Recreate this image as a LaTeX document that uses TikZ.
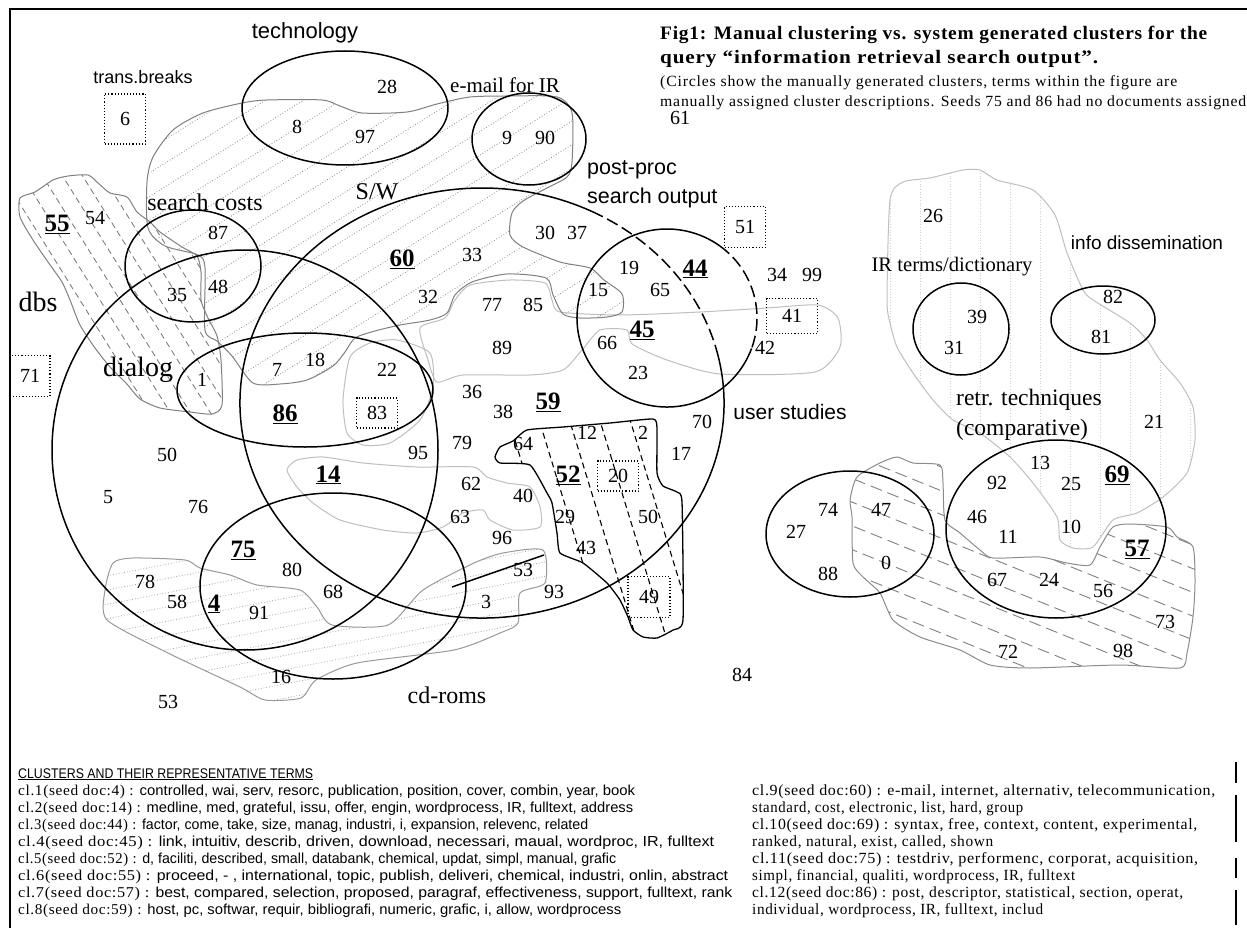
\documentclass[tikz,border=0pt]{standalone}
\usepackage{fontspec}
\usepackage{graphicx}
\setmainfont{Liberation Serif}
\newfontfamily\sansf{Liberation Sans}
\newfontfamily\titlef[LetterSpace=4]{Liberation Serif}
\newfontfamily\subf[LetterSpace=5]{Liberation Serif}
\newfontfamily\lsf[LetterSpace=4]{Liberation Serif}
\newcommand{\fitto}[2]{\resizebox{#1}{\height}{#2}}
\newcommand{\lline}[2]{{\lsf\fontsize{15}{17}\selectfont #1 : }{\sansf\fontsize{14.5}{17}\selectfont #2}}
\newcommand{\myhatch}[6]{%
  \begin{scope}
    \clip #1;
    \begin{scope}[shift={(#3,#4)},rotate=#5]
      \foreach \k in {-32,...,32} {\draw[#2] (-620,\k*#6) -- (620,\k*#6);}
    \end{scope}
  \end{scope}}
\tikzset{
  num/.style={font=\fontsize{20}{22}\selectfont, inner sep=0pt},
  bnum/.style={font=\fontsize{25}{27}\selectfont\bfseries, inner sep=0pt},
  slab/.style={font=\fontsize{#1}{#1}\selectfont, inner sep=0pt},
  sslab/.style={font=\fontsize{#1}{#1}\selectfont\sansf, inner sep=0pt},
  ring/.style={draw=black, line width=1.5pt},
  ringdash/.style={draw=black, line width=1.5pt, dash pattern=on 12pt off 5pt},
  blobdark/.style={draw=black!50, line width=1pt},
  bloblight/.style={draw=black!25, line width=1pt},
  blobblack/.style={draw=black, line width=1.3pt},
  dotbox/.style={draw=black, dotted, line width=1.1pt, inner sep=0pt, font=\fontsize{20}{22}\selectfont},
  hdot/.style={draw=black!45, dotted, line width=0.8pt},
  hdotl/.style={draw=black!35, dotted, line width=0.8pt},
  hdash/.style={draw=black!55, dash pattern=on 6pt off 4pt, line width=0.8pt},
  hdashk/.style={draw=black, dash pattern=on 6pt off 4pt, line width=1.1pt},
  hdashl/.style={draw=black!50, dash pattern=on 12pt off 6pt, line width=0.9pt},
  hvert/.style={draw=black!18, dotted, line width=0.7pt},
  frameline/.style={draw=black, line width=1.6pt},
  bline/.style={inner sep=0pt, anchor=base west},
  rline/.style={font=\lsf\fontsize{15.5}{17}\selectfont, inner sep=0pt, anchor=base west},
}
\def\blobA{plot[smooth cycle,tension=0.45] coordinates {(253,383) (280,384) (307,380) (333,366) (345,352) (355,338) (375,331) (400,325) (430,320) (447,313) (455,295) (472,282) (507,274) (546,278) (553,295) (563,314) (580,318) (607,317) (622,312) (622,294) (604,280) (590,268) (560,262) (523,247) (510,235) (512,213) (523,201) (547,188) (567,177) (572,162) (572,113) (557,97) (510,96) (470,97) (437,104) (407,112) (362,113) (340,106) (322,100) (267,100) (242,103) (203,113) (173,130) (153,157) (147,182) (148,228) (165,246) (198,255) (205,268) (205,330) (217,341) (232,356)}}
\def\blobB{plot[smooth cycle,tension=0.4] coordinates {(20,198) (35,192) (53,180) (68,176) (88,175) (98,183) (110,193) (127,197) (137,212) (150,222) (160,232) (182,247) (197,256) (201,272) (201,300) (208,318) (217,336) (221,360) (222,405) (212,414) (190,412) (160,408) (140,399) (126,383) (110,367) (95,348) (80,325) (70,300) (62,282) (48,262) (33,240) (20,217)}}
\def\blobC{plot[smooth cycle,tension=0.3] coordinates {(495,457) (500,447) (513,441) (527,430) (563,427) (610,423) (653,419) (657,428) (657,473) (663,486) (677,492) (682,502) (683,620) (673,630) (657,638) (643,637) (633,630) (628,617) (620,600) (607,583) (583,563) (560,553) (557,533) (552,503) (547,493) (530,465) (500,463)}}
\def\blobD{plot[smooth cycle,tension=0.4] coordinates {(850,500) (857,477) (880,463) (897,457) (913,463) (940,465) (943,483) (945,520) (960,533) (980,550) (993,558) (1040,557) (1067,563) (1090,565) (1100,547) (1113,527) (1130,524) (1167,527) (1177,537) (1193,547) (1195,583) (1193,617) (1187,653) (1180,668) (1120,665) (1030,668) (990,665) (960,650) (920,637) (893,620) (880,593) (863,577) (853,563) (852,517)}}
\def\blobE{plot[smooth cycle,tension=0.4] coordinates {(113,563) (133,558) (185,560) (200,568) (230,575) (257,585) (300,590) (317,607) (332,625) (388,625) (423,590) (474,563) (503,553) (543,550) (545,583) (520,593) (518,623) (500,633) (454,650) (357,663) (316,680) (301,698) (265,700) (240,687) (168,653) (107,620) (105,590)}}
\def\blobF{plot[smooth cycle,tension=0.4] coordinates {(287,470) (297,460) (323,457) (363,463) (417,467) (473,467) (487,477) (507,483) (530,487) (540,507) (540,527) (513,530) (490,520) (483,510) (463,513) (443,527) (417,533) (383,530) (340,520) (313,503) (297,487)}}
\def\blobG{plot[smooth cycle,tension=0.4] coordinates {(350,357) (370,343) (397,340) (430,353) (433,387) (420,420) (390,443) (363,445) (347,433) (343,400)}}
\def\blobP{plot[smooth cycle,tension=0.4] coordinates {(420,328) (445,318) (455,300) (470,285) (510,280) (545,283) (552,300) (560,312) (620,315) (700,312) (767,308) (818,305) (838,318) (840,347) (815,372) (720,374) (667,360) (632,344) (627,330) (600,330) (582,350) (563,370) (530,375) (463,375) (437,382) (428,360)}}
\def\blobI{plot[smooth cycle,tension=0.4] coordinates {(887,300) (890,200) (903,182) (930,178) (963,170) (980,170) (997,180) (1033,190) (1055,215) (1067,253) (1083,290) (1093,300) (1130,323) (1147,340) (1160,360) (1180,383) (1193,407) (1195,440) (1187,473) (1163,497) (1137,513) (1113,520) (1093,547) (1073,548) (1060,540) (1057,517) (1033,483) (1010,457) (980,433) (953,420) (933,400) (913,373) (897,347) (890,323)}}
\begin{document}
\begin{tikzpicture}[x=1pt,y=-1pt]
\useasboundingbox (0,0) rectangle (1247,928);
\fill[white] (0,0) rectangle (1247,928);
% ---------- frame
\draw[frameline] (10,928) -- (10,9) -- (1247,9);
\foreach \ya/\yb in {762/783, 795/842, 858/878, 890/925} {\draw[line width=1.2pt] (1236,\ya) -- (1236,\yb);}
% ---------- system generated clusters (grey blobs)
\myhatch{\blobI}{hvert}{1040}{350}{90}{30}
\draw[bloblight] \blobI;
\draw[bloblight] \blobF;
\draw[bloblight] \blobG;
\draw[bloblight] \blobP;
\myhatch{\blobA}{hdot}{360}{230}{32}{20}
\draw[blobdark] \blobA;
\myhatch{\blobB}{hdash}{120}{300}{-58}{17}
\draw[blobdark] \blobB;
\myhatch{\blobE}{hdotl}{320}{620}{11}{14}
\draw[draw=black!40, line width=1pt] \blobE;
\myhatch{\blobD}{hdashl}{1020}{570}{-22}{22}
\draw[draw=black!45, line width=1pt] \blobD;
\myhatch{\blobC}{hdashk}{600}{520}{-73}{29}
\draw[blobblack] \blobC;
% ---------- manual clusters (circles)
\draw[ring] (345,108) ellipse [x radius=103, y radius=57];
\draw[ring] (529,139) ellipse [x radius=57, y radius=46];
\draw[ring] (193,266) ellipse [x radius=68, y radius=56];
\draw[ring] (245,450) ellipse [x radius=193, y radius=200];
\draw[ring] (482,403) ++(-14:242 and 215) arc [start angle=-14, end angle=297, x radius=242, y radius=215];
\draw[ringdash] (482,403) ++(-63:242 and 215) arc [start angle=-63, end angle=-14, x radius=242, y radius=215];
\draw[ring] (305,390) ellipse [x radius=128, y radius=57];
\draw[ring] (333,586) ellipse [x radius=133, y radius=93];
\draw[ring] (667,318) ++(20:90 and 89) arc [start angle=20, end angle=306, x radius=90, y radius=89];
\draw[ringdash] (667,318) ++(-54:90 and 89) arc [start angle=-54, end angle=20, x radius=90, y radius=89];
\draw[ring] (850,534) ellipse [x radius=84, y radius=63];
\draw[ring] (1056,529) ellipse [x radius=110, y radius=89];
\draw[ring] (961,329) ellipse [x radius=48, y radius=46];
\draw[ring] (1103,320) ellipse [x radius=52, y radius=34];
\coordinate (la) at (452,587);
\coordinate (lb) at (544,555);
\draw[line width=1.5pt] (la) -- (lb);
% ---------- cluster descriptions
\node[sslab=22] (ltech) at (305,33) {technology};
\node[sslab=18] (ltrans) at (143,77) {trans.breaks};
\node[slab=21] (lmail) at (505,85) {e-mail for IR};
\node[sslab=21.5, anchor=west] (lpost1) at (587,170) {post-proc};
\node[sslab=21.5, anchor=west] (lpost2) at (587,198) {search output};
\node[slab=24] (lcosts) at (205,202) {search costs};
\node[slab=24] (lsw) at (377,192) {S/W};
\node[slab=28] (ldbs) at (38,302) {dbs};
\node[slab=28] (ldialog) at (138,370) {dialog};
\node[sslab=21] (luser) at (790,412) {user studies};
\node[slab=20.6] (lirterms) at (952,267) {IR terms/dictionary};
\node[sslab=19] (linfo) at (1147,243) {info dissemination};
\node[slab=23.5, anchor=west] (lretr1) at (956,400) {retr. techniques};
\node[slab=23.5, anchor=west] (lretr2) at (956,430) {(comparative)};
\node[slab=24] (lcd) at (447,695) {cd-roms};
% ---------- dotted boxes
\node[dotbox, minimum width=41pt, minimum height=50pt] (n6) at (125,119) {6};
\node[dotbox, minimum width=41pt, minimum height=41pt] (n51) at (745,227) {51};
\node[dotbox, minimum width=51pt, minimum height=35pt] (n41) at (792,316) {41};
\node[dotbox, minimum width=40pt, minimum height=41pt] (n71) at (30,376) {71};
\node[dotbox, minimum width=41pt, minimum height=30pt] (n83) at (377,413) {83};
\node[dotbox, minimum width=41pt, minimum height=30pt] (n20) at (618,476) {20};
\node[dotbox, minimum width=42pt, minimum height=41pt] (n49) at (649,597) {49};
% ---------- documents
\node[num] (n28) at (387,87) {28};
\node[num] (n8) at (297,127) {8};
\node[num] (n97) at (365,137) {97};
\node[num] (n9) at (507,138) {9};
\node[num] (n90) at (545,138) {90};
\node[num] (n61) at (680,118) {61};
\node[num] (n54) at (95,218) {54};
\node[num] (n87) at (218,233) {87};
\node[num] (n48) at (218,287) {48};
\node[num] (n35) at (177,295) {35};
\node[num] (n33) at (472,255) {33};
\node[num] (n30) at (545,233) {30};
\node[num] (n37) at (577,233) {37};
\node[num] (n19) at (629,268) {19};
\node[num] (n34) at (777,275) {34};
\node[num] (n99) at (812,275) {99};
\node[num] (n15) at (598,290) {15};
\node[num] (n65) at (660,290) {65};
\node[num] (n32) at (428,297) {32};
\node[num] (n77) at (492,305) {77};
\node[num] (n85) at (533,305) {85};
\node[num] (n1) at (202,380) {1};
\node[num] (n7) at (277,370) {7};
\node[num] (n18) at (315,360) {18};
\node[num] (n22) at (387,370) {22};
\node[num] (n66) at (607,343) {66};
\node[num] (n89) at (502,348) {89};
\node[num] (n23) at (638,373) {23};
\node[num] (n42) at (765,348) {42};
\node[num] (n36) at (472,392) {36};
\node[num] (n38) at (503,412) {38};
\node[num] (n70) at (702,422) {70};
\node[num] (n79) at (462,443) {79};
\node[num] (n95) at (418,453) {95};
\node[num] (n64) at (523,444) {64};
\node[num] (n12) at (587,433) {12};
\node[num] (n2) at (643,433) {2};
\node[num] (n17) at (681,454) {17};
\node[num] (n50a) at (167,455) {50};
\node[num] (n5) at (108,497) {5};
\node[num] (n76) at (198,507) {76};
\node[num] (n62) at (471,484) {62};
\node[num] (n40) at (523,496) {40};
\node[num] (n63) at (460,517) {63};
\node[num] (n29) at (565,517) {29};
\node[num] (n50b) at (648,517) {50};
\node[num] (n96) at (502,538) {96};
\node[num] (n43) at (586,548) {43};
\node[num] (n53a) at (523,570) {53};
\node[num] (n80) at (292,570) {80};
\node[num] (n68) at (333,592) {68};
\node[num] (n78) at (145,582) {78};
\node[num] (n58) at (177,602) {58};
\node[num] (n91) at (259,613) {91};
\node[num] (n93) at (554,592) {93};
\node[num] (n3) at (486,602) {3};
\node[num] (n16) at (281,677) {16};
\node[num] (n53b) at (168,702) {53};
\node[num] (n84) at (742,675) {84};
\node[num] (n26) at (933,216) {26};
\node[num] (n39) at (977,317) {39};
\node[num] (n31) at (954,348) {31};
\node[num] (n82) at (1113,297) {82};
\node[num] (n81) at (1101,337) {81};
\node[num] (n21) at (1154,422) {21};
\node[num] (n13) at (1040,463) {13};
\node[num] (n92) at (997,483) {92};
\node[num] (n25) at (1071,484) {25};
\node[num] (n74) at (828,510) {74};
\node[num] (n47) at (881,510) {47};
\node[num] (n27) at (796,532) {27};
\node[num] (n46) at (977,517) {46};
\node[num] (n11) at (1008,537) {11};
\node[num] (n10) at (1071,527) {10};
\node[num] (n88) at (828,574) {88};
\node[num] (n0) at (886,563) {0};
\node[num] (n67) at (997,580) {67};
\node[num] (n24) at (1049,580) {24};
\node[num] (n56) at (1103,591) {56};
\node[num] (n73) at (1165,622) {73};
\node[num] (n72) at (1008,652) {72};
\node[num] (n98) at (1123,651) {98};
% ---------- seeds (bold, underlined)
\node[bnum] (s55) at (57,224) {\underline{55}};
\node[bnum] (s60) at (402,259) {\underline{60}};
\node[bnum] (s44) at (695,269) {\underline{44}};
\node[bnum] (s45) at (642,330) {\underline{45}};
\node[bnum] (s86) at (285,414) {\underline{86}};
\node[bnum] (s14) at (328,475) {\underline{14}};
\node[bnum] (s59) at (548,402) {\underline{59}};
\node[bnum] (s52) at (568,475) {\underline{52}};
\node[bnum] (s75) at (243,550) {\underline{75}};
\node[bnum] (s4) at (214,604) {\underline{4}};
\node[bnum] (s69) at (1117,475) {\underline{69}};
\node[bnum] (s57) at (1137,549) {\underline{57}};
% ---------- title
\node[anchor=base west, inner sep=0pt, font=\titlef\fontsize{19}{21}\selectfont\bfseries] (title1) at (660,40) {\fitto{547pt}{Fig1: Manual clustering vs. system generated clusters for the}};
\node[anchor=base west, inner sep=0pt, font=\titlef\fontsize{19}{21}\selectfont\bfseries] (title2) at (660,64) {\fitto{438pt}{query “information retrieval search output”.}};
\node[anchor=base west, inner sep=0pt, font=\subf\fontsize{15.5}{17}\selectfont] (sub1) at (660,87) {\fitto{517pt}{(Circles show the manually generated clusters, terms within the figure are}};
\node[anchor=base west, inner sep=0pt, font=\subf\fontsize{15.5}{17}\selectfont] (sub2) at (660,107) {\fitto{586pt}{manually assigned cluster descriptions. Seeds 75 and 86 had no documents assigned}};
% ---------- legend, left column
\node[bline] (hdr) at (18,778) {\fitto{295pt}{\sansf\fontsize{14}{16}\selectfont\underline{CLUSTERS AND THEIR REPRESENTATIVE TERMS}}};
\node[bline] (c1) at (18,795) {\fitto{617pt}{\lline{cl.1(seed doc:4)}{controlled, wai, serv, resorc, publication, position, cover, combin, year, book}}};
\node[bline] (c2) at (18,812) {\fitto{615pt}{\lline{cl.2(seed doc:14)}{medline, med, grateful, issu, offer, engin, wordprocess, IR, fulltext, address}}};
\node[bline] (c3) at (18,829) {\fitto{570pt}{\lline{cl.3(seed doc:44)}{factor, come, take, size, manag, industri, i, expansion, relevenc, related}}};
\node[bline] (c4) at (18,846) {\fitto{696pt}{\lline{cl.4(seed doc:45)}{link, intuitiv, describ, driven, download, necessari, maual, wordproc, IR, fulltext}}};
\node[bline] (c5) at (18,863) {\fitto{598pt}{\lline{cl.5(seed doc:52)}{d, faciliti, described, small, databank, chemical, updat, simpl, manual, grafic}}};
\node[bline] (c6) at (18,880) {\fitto{710pt}{\lline{cl.6(seed doc:55)}{proceed, - , international, topic, publish, deliveri, chemical, industri, onlin, abstract}}};
\node[bline] (c7) at (18,897) {\fitto{714pt}{\lline{cl.7(seed doc:57)}{best, compared, selection, proposed, paragraf, effectiveness, support, fulltext, rank}}};
\node[bline] (c8) at (18,914) {\fitto{603pt}{\lline{cl.8(seed doc:59)}{host, pc, softwar, requir, bibliografi, numeric, grafic, i, allow, wordprocess}}};
% ---------- legend, right column
\node[rline] (c9) at (752,795) {\fitto{463pt}{cl.9(seed doc:60) : e-mail, internet, alternativ, telecommunication,}};
\node[rline] (c9b) at (752,812) {\fitto{271pt}{standard, cost, electronic, list, hard, group}};
\node[rline] (c10) at (752,829) {\fitto{445pt}{cl.10(seed doc:69) : syntax, free, context, content, experimental,}};
\node[rline] (c10b) at (752,846) {\fitto{241pt}{ranked, natural, exist, called, shown}};
\node[rline] (c11) at (752,863) {\fitto{446pt}{cl.11(seed doc:75) : testdriv, performenc, corporat, acquisition,}};
\node[rline] (c11b) at (752,880) {\fitto{323pt}{simpl, financial, qualiti, wordprocess, IR, fulltext}};
\node[rline] (c12) at (752,897) {\fitto{431pt}{cl.12(seed doc:86) : post, descriptor, statistical, section, operat,}};
\node[rline] (c12b) at (752,914) {\fitto{291pt}{individual, wordprocess, IR, fulltext, includ}};
\end{tikzpicture}
\end{document}
